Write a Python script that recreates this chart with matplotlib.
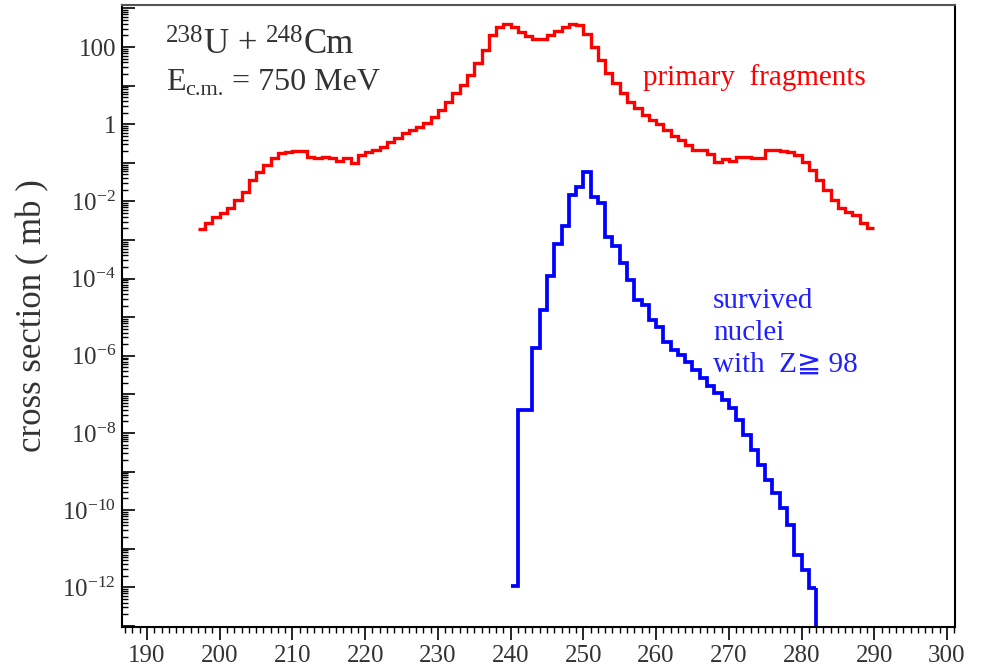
#!/usr/bin/env python3

from __future__ import annotations

import matplotlib

matplotlib.use("Agg")
import matplotlib.pyplot as plt
import numpy as np
from matplotlib.ticker import FuncFormatter, LogLocator, MultipleLocator

# Primary fragments (mb), one bin per mass number, bins 197..289
red_first_bin = 197
red_xs = [
    1.9e-3, 2.7e-3, 4.0e-3, 4.9e-3, 6.6e-3, 1.1e-2, 1.8e-2, 3.5e-2, 5.9e-2, 8.7e-2,
    0.13, 0.18, 0.19, 0.20, 0.20, 0.14, 0.13, 0.14, 0.13, 0.11,
    0.13, 0.098, 0.16, 0.19, 0.21, 0.26, 0.35, 0.43, 0.58, 0.71,
    0.87, 1.1, 1.55, 2.3, 3.8, 6.3, 10.5, 18.6, 38.0, 83.0,
    204.0, 324.0, 398.0, 339.0, 251.0, 191.0, 158.0, 166.0, 204.0, 263.0,
    339.0, 398.0, 372.0, 224.0, 102.0, 46.0, 21.0, 11.5, 6.3, 3.8,
    2.6, 1.74, 1.29, 1.02, 0.71, 0.50, 0.39, 0.29, 0.22, 0.21,
    0.17, 0.107, 0.123, 0.112, 0.138, 0.138, 0.132, 0.132, 0.21, 0.21,
    0.20, 0.19, 0.16, 0.107, 0.065, 0.035, 0.020, 0.011, 6.6e-3, 5.4e-3,
    4.5e-3, 2.7e-3, 2.0e-3,
]

# Survived nuclei with Z >= 98 (mb), bins 240..281
blue_first_bin = 240
blue_xs = [
    1.1e-12, 4.0e-8, 4.0e-8, 1.55e-6, 1.55e-5, 1.17e-4, 7.9e-4, 2.3e-3, 1.48e-2, 2.4e-2,
    5.9e-2, 1.32e-2, 8.9e-3, 1.23e-3, 6.8e-4, 2.5e-4, 9.1e-5, 2.8e-5, 2.1e-5, 8.5e-6,
    5.6e-6, 2.3e-6, 1.4e-6, 1.05e-6, 6.9e-7, 4.3e-7, 2.6e-7, 1.66e-7, 1.1e-7, 7.1e-8,
    4.5e-8, 2.2e-8, 8.9e-9, 3.6e-9, 1.5e-9, 6.0e-10, 2.8e-10, 1.15e-10, 4.2e-11, 6.9e-12,
    2.8e-12, 9.8e-13,
]

x_ticks = [190, 200, 210, 220, 230, 240, 250, 260, 270, 280, 290, 300]

# header pieces: (text, fontsize, raise in px)
reaction_parts = [("238", 18, 11), ("U + ", 25, 0), ("248", 18, 11), ("Cm", 25, 0)]
energy_parts = [("E", 23, 0), ("c.m.", 16, -5), (" = 750 MeV", 23, 0)]

TXT = "#333333"
YMIN, YMAX = 10 ** -13.03, 10 ** 3.09


def ylab(v, pos):
    if v < YMIN or v > YMAX:
        return ""
    e = int(round(np.log10(v)))
    if e % 2:
        return ""
    if e >= 0:
        return f"{int(round(v))}"
    return rf"$\mathregular{{10^{{{e}}}}}$"


def put_line(fig, renderer, parts, x0, base):
    W, H = fig.bbox.width, fig.bbox.height
    x = x0
    for s, size, dy in parts:
        t = fig.text(x / W, 1 - (base - dy) / H, s, fontsize=size, color=TXT,
                     va="baseline", ha="left")
        x += t.get_window_extent(renderer).width


def main() -> int:
    plt.rcParams["font.family"] = ["Liberation Serif", "DejaVu Serif", "DejaVu Sans"]
    plt.rcParams["mathtext.fontset"] = "custom"
    plt.rcParams["mathtext.rm"] = "Liberation Serif"
    plt.rcParams["mathtext.it"] = "Liberation Serif:italic"
    plt.rcParams["mathtext.bf"] = "Liberation Serif:bold"

    fig = plt.figure(figsize=(9.82, 6.72), dpi=100)
    ax = fig.add_axes([121.5 / 982, 1 - 627 / 672, 833.5 / 982, 622 / 672])

    red_edges = np.arange(red_first_bin, red_first_bin + len(red_xs) + 1)
    blue_edges = np.arange(blue_first_bin, blue_first_bin + len(blue_xs) + 1)

    ax.set_yscale("log")
    ax.set_xlim(186.5, 301.1)
    ax.set_ylim(YMIN, YMAX)

    ax.stairs(red_xs, red_edges, baseline=None, color="#ff0000", lw=2.4, joinstyle="miter")
    ax.stairs(blue_xs, blue_edges, baseline=None, color="#0000ff", lw=2.7, joinstyle="miter")
    ax.vlines(blue_edges[-1], YMIN, blue_xs[-1], color="#0000ff", lw=2.7)

    # axes / ticks
    ax.set_xticks(x_ticks)
    ax.xaxis.set_minor_locator(MultipleLocator(1))
    ax.yaxis.set_major_locator(LogLocator(base=10, subs=(1.0,), numticks=40))
    ax.yaxis.set_minor_locator(LogLocator(base=10, subs=np.arange(2, 10), numticks=40))
    ax.yaxis.set_major_formatter(FuncFormatter(ylab))
    ax.yaxis.set_minor_formatter(FuncFormatter(lambda v, p: ""))

    ax.tick_params(axis="x", which="major", direction="out", length=9, width=1.2,
                   labelsize=18, labelcolor=TXT, pad=4)
    ax.tick_params(axis="x", which="minor", direction="out", length=4, width=1.0)
    ax.tick_params(axis="y", which="major", direction="in", length=9, width=1.2,
                   labelsize=18, labelcolor=TXT, pad=4)
    ax.tick_params(axis="y", which="minor", direction="in", length=4, width=1.0)
    for s in ax.spines.values():
        s.set_linewidth(1.5)
    ax.spines["top"].set_color("#555555")

    ax.set_ylabel("cross section ( mb )", fontsize=25, color=TXT)
    ax.yaxis.set_label_coords(-0.087, 0.5)

    # annotations
    renderer = fig.canvas.get_renderer()
    put_line(fig, renderer, reaction_parts, 166, 53)
    put_line(fig, renderer, energy_parts, 166, 90)
    fig.text(643 / 982, 1 - 85 / 672, "primary  fragments", fontsize=21,
             color="#ff0000", va="baseline", ha="left")
    fig.text(713 / 982, 1 - 372 / 672, "survived\nnuclei\nwith  Z\u2267 98", fontsize=21,
             color="#2020ff", va="baseline", ha="left", linespacing=1.3)

    fig.savefig("out.png", dpi=100)
    plt.close(fig)
    return 0


if __name__ == "__main__":
    raise SystemExit(main())
